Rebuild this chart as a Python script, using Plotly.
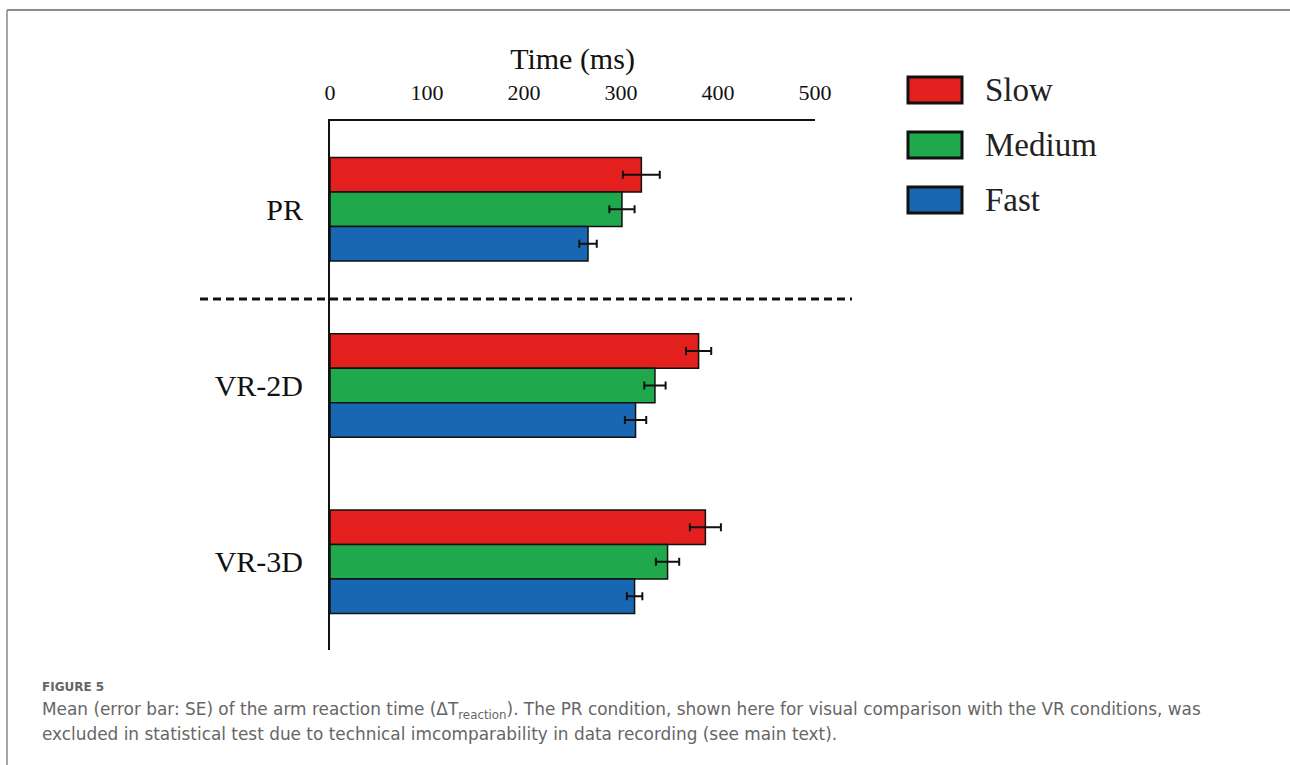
import plotly.graph_objects as go

conditions = ["PR", "VR-2D", "VR-3D"]
speeds = ["Slow", "Medium", "Fast"]
means = {
    "Slow": [321, 380, 387],
    "Medium": [301, 335, 348],
    "Fast": [266, 315, 314],
}
ses = {
    "Slow": [19, 13, 16],
    "Medium": [13, 11, 12],
    "Fast": [9, 11, 8],
}
colors = {"Slow": "#e4201e", "Medium": "#20a84c", "Fast": "#1767b2"}
x_ticks = [0, 100, 200, 300, 400, 500]

W, H = 1290, 765
L, R, T, B = 330, 815, 121, 650  # plot area in pixels

def px(x):
    return (x - L) / (R - L)

def py(y):
    return (B - y) / (B - T)

fig = go.Figure()
for s in speeds:
    fig.add_trace(go.Bar(
        y=conditions, x=means[s], orientation="h", name=s,
        marker=dict(color=colors[s], line=dict(color="#111", width=1.5)),
        error_x=dict(type="data", array=ses[s], color="#111", thickness=2, width=4),
        showlegend=False,
    ))

serif = "Liberation Serif, Times New Roman, serif"
fig.update_layout(
    width=W, height=H,
    margin=dict(l=L, r=W - R, t=T, b=H - B),
    paper_bgcolor="white", plot_bgcolor="white",
    barmode="group", bargap=0.413, bargroupgap=0,
    font=dict(family=serif, color="#111"),
    xaxis=dict(
        side="top", range=[0, 500], tickvals=x_ticks,
        showgrid=False, zeroline=False,
        showline=True, linecolor="#111", linewidth=2,
        ticks="", ticklabelstandoff=10,
        tickfont=dict(size=22, family=serif),
        title=dict(text="Time (ms)", font=dict(size=30, family=serif), standoff=2),
    ),
    yaxis=dict(
        autorange="reversed", categoryorder="array", categoryarray=conditions,
        showgrid=False, zeroline=False,
        showline=True, linecolor="#111", linewidth=2,
        ticks="", ticklabelstandoff=19,
        tickfont=dict(size=30, family=serif),
    ),
)

shapes = []
# dashed separator
shapes.append(dict(type="line", xref="paper", yref="paper",
                   x0=px(200), x1=px(852), y0=py(299), y1=py(299),
                   line=dict(color="#111", width=3, dash="8px,5px")))
# manual legend
annotations = []
for i, s in enumerate(speeds):
    yc = 90 + i * 55
    shapes.append(dict(type="rect", xref="paper", yref="paper",
                       x0=px(908), x1=px(962), y0=py(yc - 13), y1=py(yc + 13),
                       fillcolor=colors[s], line=dict(color="#111", width=3)))
    annotations.append(dict(xref="paper", yref="paper", x=px(983), y=py(yc),
                            text=s, showarrow=False, xanchor="left", yanchor="middle",
                            font=dict(size=33, family=serif, color="#222")))
# frame lines
shapes.append(dict(type="line", xref="paper", yref="paper",
                   x0=px(7), x1=px(1290), y0=py(10), y1=py(10),
                   line=dict(color="#666", width=1.5)))
shapes.append(dict(type="line", xref="paper", yref="paper",
                   x0=px(7), x1=px(7), y0=py(10), y1=py(765),
                   line=dict(color="#888", width=1.5)))

cap_font = "DejaVu Sans, Open Sans, sans-serif"
annotations.append(dict(xref="paper", yref="paper", x=px(40), y=py(687),
                        text="<b>FIGURE 5</b>", showarrow=False, xanchor="left", yanchor="middle",
                        font=dict(size=12, family=cap_font, color="#666")))
annotations.append(dict(xref="paper", yref="paper", x=px(40), y=py(710),
                        text="Mean (error bar: SE) of the arm reaction time (ΔT<sub>reaction</sub>). The PR condition, shown here for visual comparison with the VR conditions, was",
                        showarrow=False, xanchor="left", yanchor="middle",
                        font=dict(size=16.9, family=cap_font, color="#666")))
annotations.append(dict(xref="paper", yref="paper", x=px(40), y=py(734),
                        text="excluded in statistical test due to technical imcomparability in data recording (see main text).",
                        showarrow=False, xanchor="left", yanchor="middle",
                        font=dict(size=16.9, family=cap_font, color="#666")))

fig.update_layout(shapes=shapes, annotations=annotations)
fig.write_html("out.html", config={"displayModeBar": False},
               post_script="document.body.style.margin='0';document.body.style.overflow='hidden';")
